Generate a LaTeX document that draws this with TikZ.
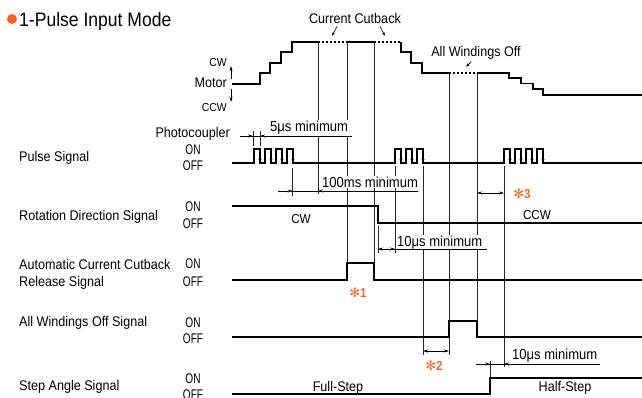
\documentclass[tikz,border=0pt]{standalone}
\usepackage{fontspec}
\setmainfont[FakeStretch=0.9]{Liberation Sans}
\newfontfamily\narrowsf[FakeStretch=0.72]{Liberation Sans}
\newfontfamily\symsf{DejaVu Sans}
\usetikzlibrary{arrows.meta}
\definecolor{mkorange}{RGB}{240,100,40}

\begin{document}
\begin{tikzpicture}[x=1pt, y=-1pt, sig/.style={line width=1.4pt, line join=miter}, ref/.style={line width=0.7pt, black!85},
  lab/.style={font=\fontsize{14}{16}\selectfont, inner sep=0pt}, sml/.style={font=\fontsize{11.6}{13}\selectfont, inner sep=0pt},
  lvl/.style={font=\narrowsf\fontsize{14}{16}\selectfont, inner sep=0pt, anchor=base},
  txt/.style={font=\fontsize{14.5}{16}\selectfont, fill=white, inner sep=1pt, anchor=base west},
  note/.style={font=\bfseries\fontsize{13}{15}\selectfont, text=mkorange, inner sep=0pt, anchor=base},
  >={Stealth[length=5pt, width=3pt]}]
\useasboundingbox (0,0) rectangle (642,398);
% title
\fill[mkorange] (12,19) circle (5);
\node[anchor=base west, font=\fontsize{19.5}{22}\selectfont, inner sep=0pt] (ttl) at (19,26.5) {1-Pulse Input Mode};
% reference lines
\foreach \x/\ya/\yb in {253/131/146, 260/131/146, 292.7/168/196, 318/42/194, 347/42/263, 374/42/263, 378/226/253,
  395/166/253, 423/166/355, 449/73/355, 477/73/321, 490/361/378, 504/166/367}
  \draw[ref] (\x,\ya) -- (\x,\yb);
% motor
\draw[sig] (232,84) -- (260,84) -- (260,73) -- (270,73) -- (270,63) -- (281,63) -- (281,52) -- (292,52) -- (292,42) -- (318,42);
\draw[sig] (347,42) -- (374,42);
\draw[line width=1.2pt, dash pattern=on 2pt off 2pt] (318,42) -- (347,42) (374,42) -- (401,42) (449,73) -- (477,73);
\draw[sig] (401,42) -- (401,52) -- (411,52) -- (411,63) -- (422,63) -- (422,73) -- (449,73);
\draw[sig] (477,73) -- (509,73) -- (509,78) -- (521,78) -- (521,83.5) -- (533,83.5) -- (533,89) -- (543,89) -- (543,95) -- (642,95);
\node[sml, anchor=base east] (mcw) at (227,66.7) {CW}; \node[lab, anchor=base east] (mot) at (227,88) {Motor};
\node[sml, anchor=base east] (mccw) at (227,111.7) {CCW};
\coordinate (up) at (231,66); \coordinate (dn) at (231,102);
\draw[->, line width=0.7pt] (231,79) -- (up); \draw[->, line width=0.7pt] (231,89) -- (dn);
% pulse signal
\draw[sig] (232,163) foreach \x in {254,265,276,287,395,406,417,504,515,526,537} { -- (\x,163) -- (\x,149) -- (\x+6,149) -- (\x+6,163) } -- (642,163);
\foreach \x in {254,265,276,287,395,406,417,504,515,526,537}
  \draw[->, line width=0.8pt, >={Stealth[length=4pt, width=3pt]}] (\x+6,151) -- (\x+6,163);
% other signals
\draw[sig] (232,206) -- (378,206) -- (378,223) -- (642,223);
\draw[sig] (232,280) -- (347,280) -- (347,263) -- (374,263) -- (374,280) -- (642,280);
\draw[sig] (232,337) -- (449,337) -- (449,321) -- (477,321) -- (477,337) -- (642,337);
\draw[sig] (232,394) -- (490,394) -- (490,378) -- (642,378);
% left labels
\node[lab, anchor=base west] (psig) at (19,162) {Pulse Signal};
\node[lab, anchor=base west] (rsig) at (19,220.7) {Rotation Direction Signal};
\node[lab, anchor=base west] (asig) at (19,269) {Automatic Current Cutback};
\node[lab, anchor=base west] (asig2) at (19,286) {Release Signal};
\node[lab, anchor=base west] (wsig) at (19,326.7) {All Windings Off Signal};
\node[lab, anchor=base west] (ssig) at (19,390) {Step Angle Signal};
\node[lab, anchor=base east] (phc) at (230,138) {Photocoupler};
\node[lvl] (pon) at (193,155) {ON}; \node[lvl] (poff) at (193,171) {OFF};
\node[lvl] (ron) at (193,211.7) {ON}; \node[lvl] (roff) at (193,228) {OFF};
\node[lvl] (aon) at (193,268) {ON}; \node[lvl] (aoff) at (193,286) {OFF};
\node[lvl] (won) at (193,327) {ON}; \node[lvl] (woff) at (193,343) {OFF};
\node[lvl] (son) at (193,383) {ON}; \node[lvl] (soff) at (193,399) {OFF};
% state labels
\node[lab, anchor=base, font=\fontsize{13}{15}\selectfont] (cwl) at (301,223) {CW};
\node[lab, anchor=base, font=\fontsize{13}{15}\selectfont] (ccwl) at (537,219) {CCW};
\node[lab, anchor=base] (fst) at (338,391.7) {Full-Step}; \node[lab, anchor=base] (hst) at (565,391.7) {Half-Step};
\node[lab, anchor=base] (cut) at (355,24) {Current Cutback}; \node[lab, anchor=base] (awo) at (476,56.7) {All Windings Off};
\coordinate (cc1) at (332,36); \coordinate (cc2) at (385,36); \coordinate (aw1) at (466,67);
\draw[->, line width=0.6pt, >={Stealth[length=4pt, width=2.5pt]}] ([xshift=-18pt, yshift=-2pt]cut.south) -- (cc1);
\draw[->, line width=0.6pt, >={Stealth[length=4pt, width=2.5pt]}] ([xshift=25pt, yshift=-2pt]cut.south) -- (cc2);
\draw[->, line width=0.6pt, >={Stealth[length=4pt, width=2.5pt]}] ([xshift=-5pt, yshift=-2pt]awo.south) -- (aw1);
% timing notes
\node[txt] (d5) at (269,132) {5μs minimum};
\node[txt] (d100) at (321,187.3) {100ms minimum};
\node[txt] (d10a) at (396,246.7) {10μs minimum};
\node[txt] (d10b) at (511,359) {10μs minimum};
\draw[line width=0.7pt] (240,136) -- (352,136) (278,191) -- (418,191) (378,249) -- (487,249) (476,364) -- (600,364);
\draw[->, line width=0.7pt] (241,136) -- (253,136); \draw[->, line width=0.7pt] (272,136) -- (260,136);
\draw[->, line width=0.7pt] (279,191) -- (292.7,191); \draw[->, line width=0.7pt] (332,191) -- (318,191);
\draw[<->, line width=0.7pt] (378,249) -- (395,249);
\draw[<->, line width=0.7pt] (477,193) -- (504,193);
\draw[<->, line width=0.7pt] (423,351) -- (449,351);
\draw[->, line width=0.7pt] (477,364) -- (490,364); \draw[->, line width=0.7pt] (517,364) -- (504,364);
\node[note] (n1) at (358,297) {{\symsf ✻}1};
\node[note] (n2) at (434,370) {{\symsf ✻}2};
\node[note] (n3) at (522,198) {{\symsf ✻}3};
\end{tikzpicture}
\end{document}
